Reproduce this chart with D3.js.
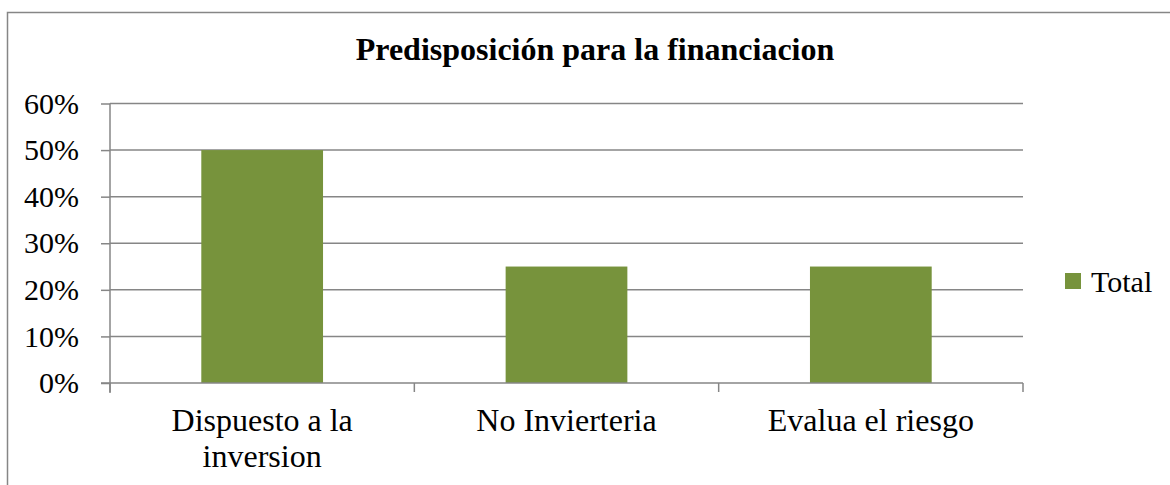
<!DOCTYPE html>
<html>
<head>
<meta charset="utf-8">
<script src="https://cdn.jsdelivr.net/npm/d3@7"></script>
<style>
  body { margin: 0; background: #fff; }
  svg { display: block; }
  svg text { font-family: "Liberation Serif", "Times New Roman", Times, serif; }
</style>
</head>
<body>
<div id="chart"></div>
<script>
const categories = [["Dispuesto a la", "inversion"], ["No Invierteria"], ["Evalua el riesgo"]];
const values = [0.50, 0.25, 0.25];
const yTicks = [0, 0.1, 0.2, 0.3, 0.4, 0.5, 0.6];
const seriesName = "Total";
const title = "Predisposición para la financiacion";

const width = 1170;
const height = 485;
const margin = { top: 103.5, left: 110, right: 147, bottom: 102 };
const green = "#77933C";
const gray = "#868686";

const svg = d3.select("#chart")
  .append("svg")
  .attr("width", width)
  .attr("height", height);

// outer border
svg.append("rect")
  .attr("x", 7.5)
  .attr("y", 12.5)
  .attr("width", width + 10)
  .attr("height", height + 10)
  .attr("fill", "none")
  .attr("stroke", gray)
  .attr("stroke-width", 1.5);

const keys = categories.map(c => c.join(" "));

const x = d3.scaleBand()
  .domain(keys)
  .range([margin.left, width - margin.right])
  .paddingInner(0.6)
  .paddingOuter(0.3);

const y = d3.scaleLinear()
  .domain([0, 0.6])
  .range([height - margin.bottom, margin.top]);

// gridlines
svg.append("g")
  .selectAll("line")
  .data(yTicks.slice(1))
  .join("line")
  .attr("x1", margin.left)
  .attr("x2", width - margin.right)
  .attr("y1", d => y(d))
  .attr("y2", d => y(d))
  .attr("stroke", gray)
  .attr("stroke-width", 1.5);

// bars
svg.append("g")
  .selectAll("rect")
  .data(values)
  .join("rect")
  .attr("x", (d, i) => x(keys[i]))
  .attr("y", d => y(d))
  .attr("width", x.bandwidth())
  .attr("height", d => y(0) - y(d))
  .attr("fill", green);

// y axis
const yAxis = svg.append("g")
  .attr("transform", `translate(${margin.left},0)`)
  .call(d3.axisLeft(y).tickValues(yTicks).tickFormat(d3.format(".0%")).tickSize(9).tickPadding(22));
yAxis.attr("font-family", null).attr("font-size", null);
yAxis.selectAll("line, path").attr("stroke", gray).attr("stroke-width", 1.5);
yAxis.select(".domain").attr("d", `M0,${y(0.6)}V${y(0) + 10}`);
yAxis.selectAll("text")
  .attr("font-size", 30)
  .attr("fill", "#000");

// x axis with boundary ticks
const bounds = d3.range(keys.length + 1).map(i => margin.left + i * (width - margin.left - margin.right) / keys.length);
const xg = svg.append("g");
xg.append("line")
  .attr("x1", margin.left - 9)
  .attr("x2", width - margin.right)
  .attr("y1", y(0))
  .attr("y2", y(0))
  .attr("stroke", gray)
  .attr("stroke-width", 1.5);
xg.selectAll("line.tick")
  .data(bounds)
  .join("line")
  .attr("class", "tick")
  .attr("x1", d => d)
  .attr("x2", d => d)
  .attr("y1", y(0))
  .attr("y2", y(0) + 9)
  .attr("stroke", gray)
  .attr("stroke-width", 1.5);

const labels = xg.selectAll("text")
  .data(categories)
  .join("text")
  .attr("text-anchor", "middle")
  .attr("font-size", 32)
  .attr("fill", "#000");
labels.each(function(lines, i) {
  const cx = x(keys[i]) + x.bandwidth() / 2;
  d3.select(this).selectAll("tspan")
    .data(lines)
    .join("tspan")
    .attr("x", cx)
    .attr("y", (d, j) => y(0) + 48 + j * 36)
    .text(d => d);
});

// title
svg.append("text")
  .attr("x", 595)
  .attr("y", 60)
  .attr("text-anchor", "middle")
  .attr("font-size", 32)
  .attr("font-weight", "bold")
  .attr("fill", "#000")
  .text(title);

// legend
const legend = svg.append("g").attr("transform", "translate(1065,273)");
legend.append("rect")
  .attr("width", 16)
  .attr("height", 16)
  .attr("fill", green);
legend.append("text")
  .attr("x", 26)
  .attr("y", 19)
  .attr("font-size", 30)
  .attr("fill", "#000")
  .text(seriesName);
</script>
</body>
</html>
